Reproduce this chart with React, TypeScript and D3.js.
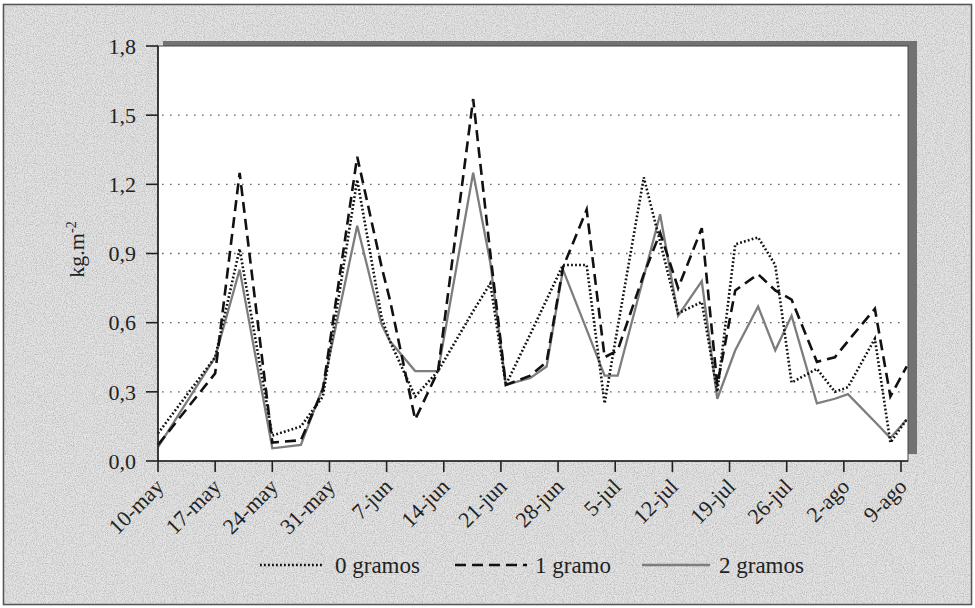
import { useEffect } from "react";
import * as d3 from "d3";

const WIDTH = 975;
const HEIGHT = 608;
const PLOT = { left: 158, right: 908, top: 46, bottom: 461 };

// days counted from 10-may
const DAYS = [
  0, 7, 10, 14, 17.5, 20.2, 24.4, 27.4, 28.4, 31.5, 34.3, 38.6, 40.7, 42.6, 45.6, 47.6, 49.6, 52.5,
  54.7, 56.3, 59.5, 61.5, 63.7, 66.6, 68.5, 70.7, 73.5, 75.6, 77.6, 80.7, 82.9, 84.5, 87.8, 89.7, 91.7,
];
const G0 = [
  0.12, 0.45, 0.92, 0.11, 0.15, 0.28, 1.22, 0.62, 0.52, 0.28, 0.39, 0.65, 0.77, 0.33, 0.55, 0.7, 0.85,
  0.85, 0.25, 0.58, 1.23, 0.95, 0.64, 0.69, 0.3, 0.94, 0.97, 0.85, 0.34, 0.4, 0.3, 0.32, 0.53, 0.08, 0.18,
];
const G1 = [
  0.07, 0.38, 1.25, 0.08, 0.09, 0.31, 1.32, 0.84, 0.7, 0.18, 0.39, 1.57, 0.9, 0.33, 0.37, 0.43, 0.84,
  1.09, 0.45, 0.48, 0.81, 0.99, 0.75, 1.01, 0.33, 0.74, 0.81, 0.74, 0.7, 0.43, 0.45, 0.52, 0.66, 0.28, 0.41,
];
const G2 = [
  0.06, 0.45, 0.83, 0.055, 0.07, 0.32, 1.02, 0.59, 0.52, 0.39, 0.39, 1.25, 0.86, 0.33, 0.36, 0.41, 0.83,
  0.57, 0.37, 0.37, 0.8, 1.07, 0.63, 0.78, 0.27, 0.48, 0.67, 0.48, 0.63, 0.25, 0.27, 0.29, 0.17, 0.1, 0.18,
];

const TICK_DAYS = [0, 7, 14, 21, 28, 35, 42, 49, 56, 63, 70, 77, 84, 91];
const TICK_LABELS = [
  "10-may", "17-may", "24-may", "31-may", "7-jun", "14-jun", "21-jun",
  "28-jun", "5-jul", "12-jul", "19-jul", "26-jul", "2-ago", "9-ago",
];
const Y_TICKS = [0, 0.3, 0.6, 0.9, 1.2, 1.5, 1.8];
const SERIES_NAMES = ["0 gramos", "1 gramo", "2 gramos"];

const FONT = "'Liberation Serif', 'DejaVu Serif', serif";

const STYLES = [
  { stroke: "#111", width: 2.6, dash: "1.8,2.2" },
  { stroke: "#111", width: 2.6, dash: "11,6" },
  { stroke: "#7d7d7d", width: 2.3, dash: null },
];

export default function App() {
  useEffect(() => {
    document.body.style.margin = "0";
  }, []);

  const x = d3.scaleLinear().domain([0, 91]).range([PLOT.left, 901]);
  const y = d3.scaleLinear().domain([0, 1.8]).range([PLOT.bottom, PLOT.top]);
  const fmt = (v: number) => v.toFixed(1).replace(".", ",");

  const line = d3
    .line<number>()
    .x((_, i) => x(DAYS[i]))
    .y((d) => y(d));

  const series = [G0, G1, G2];
  const drawOrder = [2, 0, 1];

  const legendItems = [
    { x1: 260, x2: 323, tx: 335 },
    { x1: 455, x2: 527, tx: 535 },
    { x1: 642, x2: 710, tx: 719 },
  ];
  const legendY = 565;

  return (
    <svg width={WIDTH} height={HEIGHT} style={{ display: "block" }} fontFamily={FONT}>
      <defs>
        <filter id="grain" x="0" y="0" width="100%" height="100%">
          <feTurbulence type="fractalNoise" baseFrequency="0.9" numOctaves="2" seed="4" />
          <feColorMatrix
            type="matrix"
            values="0 0 0 0 0.4  0 0 0 0 0.4  0 0 0 0 0.4  1.6 0 0 0 -0.62"
          />
        </filter>
      </defs>

      {/* paper background */}
      <rect x={0} y={0} width={WIDTH} height={HEIGHT} fill="#fff" />
      <rect x={3.5} y={4.5} width={968} height={600} fill="#e4e4e4" stroke="#555" strokeWidth={1.6} />
      <rect x={5} y={6} width={965} height={597} filter="url(#grain)" />

      {/* plot frame with shadow */}
      <rect
        x={PLOT.left + 5}
        y={PLOT.top - 5}
        width={PLOT.right - PLOT.left + 4}
        height={PLOT.bottom - PLOT.top - 2}
        fill="#727272"
      />
      <rect
        x={PLOT.left}
        y={PLOT.top}
        width={PLOT.right - PLOT.left}
        height={PLOT.bottom - PLOT.top}
        fill="#fff"
        stroke="#444"
        strokeWidth={1}
      />

      {/* grid */}
      {Y_TICKS.filter((t) => t > 0 && t < 1.8).map((t) => (
        <line
          key={`g${t}`}
          x1={PLOT.left + 4}
          x2={PLOT.right - 2}
          y1={y(t)}
          y2={y(t)}
          stroke="#666"
          strokeWidth={1.4}
          strokeDasharray="1.6,6.4"
        />
      ))}

      {/* series */}
      {drawOrder.map((si) => (
        <path
          key={SERIES_NAMES[si]}
          d={line(series[si]) ?? ""}
          fill="none"
          stroke={STYLES[si].stroke}
          strokeWidth={STYLES[si].width}
          strokeDasharray={STYLES[si].dash ?? undefined}
          strokeLinejoin="miter"
        />
      ))}

      {/* axes */}
      <line x1={PLOT.left} x2={PLOT.left} y1={PLOT.top} y2={PLOT.bottom} stroke="#222" strokeWidth={1.6} />
      <line x1={PLOT.left} x2={PLOT.right} y1={PLOT.bottom} y2={PLOT.bottom} stroke="#222" strokeWidth={1.6} />

      {Y_TICKS.map((t) => (
        <g key={`y${t}`}>
          <line x1={146} x2={PLOT.left} y1={y(t)} y2={y(t)} stroke="#222" strokeWidth={1.6} />
          <text x={136} y={y(t)} dy="0.35em" textAnchor="end" fontSize={22} fill="#222">
            {fmt(t)}
          </text>
        </g>
      ))}

      {TICK_DAYS.map((d, i) => (
        <g key={TICK_LABELS[i]}>
          <line x1={x(d)} x2={x(d)} y1={PLOT.bottom} y2={PLOT.bottom + 11} stroke="#222" strokeWidth={1.6} />
          <text
            transform={`translate(${x(d) + 7},${PLOT.bottom + 27}) rotate(-45)`}
            textAnchor="end"
            fontSize={22}
            fill="#222"
          >
            {TICK_LABELS[i]}
          </text>
        </g>
      ))}

      <text
        transform={`translate(84,${(PLOT.top + PLOT.bottom) / 2 - 4}) rotate(-90)`}
        textAnchor="middle"
        fontSize={22}
        fill="#222"
      >
        kg.m
        <tspan dy="-8" fontSize={14}>
          -2
        </tspan>
      </text>

      {/* legend */}
      {legendItems.map((it, i) => (
        <g key={`l${i}`}>
          <line
            x1={it.x1}
            x2={it.x2}
            y1={legendY}
            y2={legendY}
            stroke={STYLES[i].stroke}
            strokeWidth={STYLES[i].width}
            strokeDasharray={STYLES[i].dash ?? undefined}
          />
          <text x={it.tx} y={legendY} dy="0.35em" fontSize={23} fill="#222">
            {SERIES_NAMES[i]}
          </text>
        </g>
      ))}
    </svg>
  );
}
